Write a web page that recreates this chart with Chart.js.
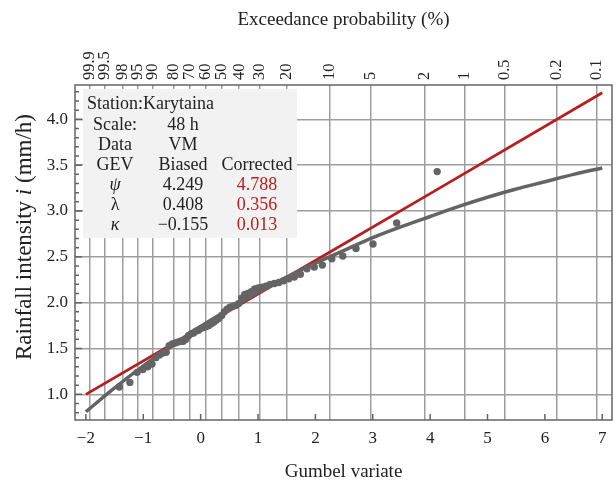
<!DOCTYPE html>
<html>
<head>
<meta charset="utf-8">
<script src="https://cdn.jsdelivr.net/npm/chart.js@4.4.1/dist/chart.umd.min.js"></script>
<style>
    html, body { margin: 0; padding: 0; background: #fff; }
</style>
</head>
<body>
<canvas id="gumbelChart" width="616" height="483"></canvas>
<script>
const sampleVariate = [
    -1.418, -1.234, -1.108, -1.008, -0.923, -0.848, -0.780, -0.717, -0.658, -0.601,
    -0.548, -0.496, -0.446, -0.397, -0.350, -0.304, -0.258, -0.213, -0.168, -0.124,
    -0.080, -0.036, 0.008, 0.052, 0.096, 0.140, 0.185, 0.230, 0.275, 0.320,
    0.367, 0.413, 0.461, 0.510, 0.559, 0.610, 0.661, 0.714, 0.769, 0.825,
    0.883, 0.943, 1.005, 1.070, 1.138, 1.209, 1.284, 1.363, 1.447, 1.537,
    1.633, 1.738, 1.853, 1.980, 2.122, 2.286, 2.477, 2.708, 3.004, 3.417, 4.123
];
const sampleIntensity = [
    1.08, 1.13, 1.24, 1.27, 1.30, 1.33, 1.40, 1.43, 1.45, 1.46,
    1.53, 1.55, 1.56, 1.57, 1.58, 1.58, 1.60, 1.64, 1.66, 1.67,
    1.69, 1.70, 1.72, 1.73, 1.74, 1.75, 1.77, 1.79, 1.81, 1.83,
    1.86, 1.90, 1.93, 1.95, 1.96, 1.97, 1.99, 2.05, 2.09, 2.10,
    2.12, 2.15, 2.16, 2.17, 2.18, 2.20, 2.21, 2.22, 2.24, 2.26,
    2.28, 2.31, 2.37, 2.39, 2.41, 2.48, 2.51, 2.59, 2.64, 2.87, 3.43
];

// fitted GEV curves
const biasedVariate = [-2, -1.5, -1, -0.5, 0, 0.5, 1, 1.5, 2, 2.5, 3, 3.5, 4, 4.5, 5, 5.5, 6, 6.5, 7];
const biasedIntensity = [0.81, 1.07, 1.31, 1.53, 1.74, 1.93, 2.11, 2.28, 2.43, 2.57, 2.71, 2.83, 2.94, 3.05, 3.15, 3.24, 3.32, 3.40, 3.47];
const correctedVariate = [-2, 0, 2, 4, 7];
const correctedIntensity = [1.00, 1.73, 2.46, 3.19, 4.29];

// axes
const gumbelTicks = [-2, -1, 0, 1, 2, 3, 4, 5, 6, 7];
const intensityTicks = [1.0, 1.5, 2.0, 2.5, 3.0, 3.5, 4.0];
const exceedanceTicks = ['99.9', '99.5', '98', '95', '90', '80', '70', '60', '50', '40', '30', '20', '10', '5', '2', '1', '0.5', '0.2', '0.1'];

// parameter table
const stationName = 'Station:Karytaina';
const tableLabels = ['Scale:', 'Data', 'GEV', 'ψ', 'λ', 'κ'];
const tableBiased = ['48 h', 'VM', 'Biased', '4.249', '0.408', '\u22120.155'];
const tableCorrected = ['', '', 'Corrected', '4.788', '0.356', '0.013'];

const SERIF = "'Liberation Serif', 'DejaVu Serif', serif";
const TEXT = '#222';
const GRID = '#9e9e9e';
const GREY = '#646464';
const RED = '#b81f1c';
const TOP_FONT = 16.5;

// exceedance probability (%) -> Gumbel reduced variate
function toVariate(p) {
    return -Math.log(-Math.log(1 - parseFloat(p) / 100));
}

function points(xs, ys) {
    return xs.map((x, i) => ({x: x, y: ys[i]}));
}

const decorPlugin = {
    id: 'decor',
    beforeDatasetsDraw(chart) {
        const {ctx, chartArea: a} = chart;
        ctx.save();
        ctx.fillStyle = '#f2f2f2';
        ctx.fillRect(a.left + 8, a.top + 4, 214, 149);

        ctx.textBaseline = 'middle';
        ctx.fillStyle = TEXT;
        ctx.font = '18px ' + SERIF;
        ctx.textAlign = 'left';
        ctx.fillText(stationName, a.left + 12, a.top + 19);

        const rowY = a.top + 40;
        for (let i = 0; i < tableLabels.length; i++) {
            let y = rowY + i * 20;
            ctx.textAlign = 'center';
            ctx.fillStyle = TEXT;
            ctx.font = (i >= 3 && i !== 4 ? 'italic ' : '') + '18px ' + SERIF;
            ctx.fillText(tableLabels[i], a.left + 40, y);
            ctx.font = '18px ' + SERIF;
            ctx.fillText(tableBiased[i], a.left + 108, y);
            ctx.fillStyle = i >= 3 ? RED : TEXT;
            ctx.fillText(tableCorrected[i], a.left + 182, y);
        }
        ctx.restore();
    },
    afterDraw(chart) {
        const {ctx, chartArea: a, scales} = chart;
        ctx.save();
        ctx.strokeStyle = GREY;
        ctx.lineWidth = 1.5;

        // inside tick marks
        ctx.beginPath();
        for (let k = 8; k <= 43; k++) {
            let y = scales.y.getPixelForValue(k / 10);
            let len = k % 5 === 0 ? 7 : 4;
            ctx.moveTo(a.left, y);
            ctx.lineTo(a.left + len, y);
        }
        gumbelTicks.forEach(v => {
            let x = scales.x.getPixelForValue(v);
            ctx.moveTo(x, a.bottom);
            ctx.lineTo(x, a.bottom - 6);
        });
        ctx.stroke();

        ctx.strokeRect(a.left, a.top, a.right - a.left, a.bottom - a.top);

        // y axis title with italic i
        const parts = [['Rainfall intensity ', ''], ['i', 'italic '], [' (mm/h)', '']];
        const size = '23px ';
        let total = 0;
        parts.forEach(p => { ctx.font = p[1] + size + SERIF; total += ctx.measureText(p[0]).width; });
        ctx.translate(25, 237);
        ctx.rotate(-Math.PI / 2);
        ctx.fillStyle = TEXT;
        ctx.textBaseline = 'middle';
        ctx.textAlign = 'left';
        let x = -total / 2;
        parts.forEach(p => {
            ctx.font = p[1] + size + SERIF;
            ctx.fillText(p[0], x, 0);
            x += ctx.measureText(p[0]).width;
        });
        ctx.restore();
    }
};

new Chart(document.getElementById('gumbelChart').getContext('2d'), {
    type: 'scatter',
    data: {
        datasets: [
            {
                label: 'Corrected',
                data: points(correctedVariate, correctedIntensity),
                showLine: true,
                borderColor: RED,
                borderWidth: 2.8,
                pointRadius: 0,
                order: 3
            },
            {
                label: 'Biased',
                data: points(biasedVariate, biasedIntensity),
                showLine: true,
                borderColor: GREY,
                borderWidth: 3.5,
                pointRadius: 0,
                cubicInterpolationMode: 'monotone',
                order: 2
            },
            {
                label: 'Data',
                data: points(sampleVariate, sampleIntensity),
                backgroundColor: GREY,
                borderWidth: 0,
                pointRadius: 3.7,
                order: 1
            }
        ]
    },
    options: {
        responsive: false,
        animation: false,
        layout: {padding: {right: 1}},
        plugins: {
            legend: {display: false},
            tooltip: {enabled: false}
        },
        scales: {
            x: {
                type: 'linear',
                position: 'bottom',
                min: -2.19,
                max: 7.17,
                afterBuildTicks: s => { s.ticks = gumbelTicks.map(v => ({value: v})); },
                afterFit: s => { s.height = 63; },
                grid: {display: false, drawTicks: false},
                border: {display: false},
                ticks: {
                    padding: 8,
                    color: TEXT,
                    font: {family: SERIF, size: 17},
                    callback: v => (v < 0 ? '\u2212' + Math.abs(v) : String(v))
                },
                title: {
                    display: true,
                    text: 'Gumbel variate',
                    color: TEXT,
                    font: {family: SERIF, size: 19},
                    padding: {top: 0, bottom: 0}
                }
            },
            x2: {
                type: 'linear',
                position: 'top',
                min: -2.19,
                max: 7.17,
                afterBuildTicks: s => { s.ticks = exceedanceTicks.map(p => ({value: toVariate(p)})); },
                afterFit: s => { s.height = 85; },
                grid: {color: GRID, lineWidth: 1.5, drawTicks: false},
                border: {display: false},
                ticks: {
                    autoSkip: false,
                    minRotation: 90,
                    maxRotation: 90,
                    padding: 5,
                    labelOffset: TOP_FONT * 1.2,
                    color: TEXT,
                    font: {family: SERIF, size: TOP_FONT},
                    callback: (v, i) => exceedanceTicks[i]
                },
                title: {
                    display: true,
                    text: 'Exceedance probability (%)',
                    color: TEXT,
                    font: {family: SERIF, size: 19},
                    padding: {top: 9, bottom: 0}
                }
            },
            y: {
                type: 'linear',
                position: 'left',
                min: 0.72,
                max: 4.375,
                afterBuildTicks: s => { s.ticks = intensityTicks.map(v => ({value: v})); },
                afterFit: s => { s.width = 75; },
                grid: {color: GRID, lineWidth: 1.5, drawTicks: false},
                border: {display: false},
                ticks: {
                    padding: 7,
                    color: TEXT,
                    font: {family: SERIF, size: 17},
                    callback: v => v.toFixed(1)
                },
                title: {display: false}
            }
        }
    },
    plugins: [decorPlugin]
});
</script>
</body>
</html>
